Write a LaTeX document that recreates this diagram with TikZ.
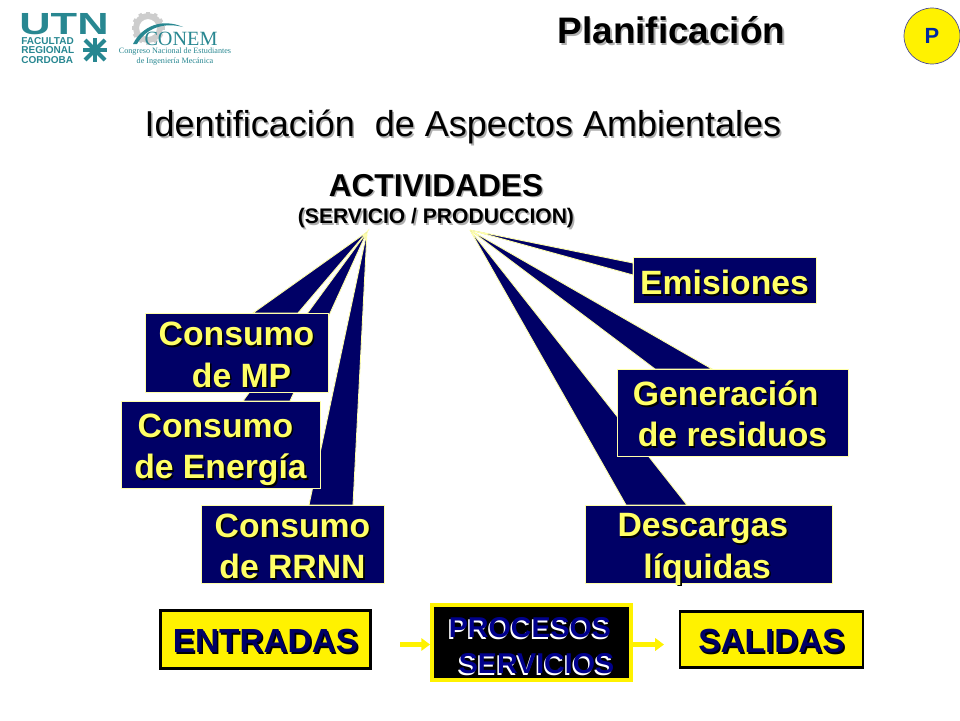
\documentclass[tikz,border=0pt]{standalone}
\usepackage{fontspec}
\setmainfont{Liberation Sans}
\newfontfamily\conemfont{Liberation Serif}
\usetikzlibrary{positioning,arrows.meta}
\definecolor{navyfill}{RGB}{0,0,102}
\definecolor{procnavy}{RGB}{0,0,140}
\definecolor{paleline}{RGB}{255,255,170}
\definecolor{palefont}{RGB}{255,255,102}
\definecolor{utnteal}{RGB}{40,135,145}
\definecolor{lightgrey}{RGB}{205,205,205}
\definecolor{softgrey}{RGB}{175,175,175}
\definecolor{badgeblue}{RGB}{0,40,160}
% text with a shadow behind it
\newcommand{\shtxt}[3][black]{\makebox[0pt][l]{\kern0.9pt\raisebox{-0.9pt}{\textcolor{#1}{#3}}}\textcolor{#2}{#3}}
% navy letters with a white edge to the lower left
\newcommand{\edgetxt}[1]{\makebox[0pt][l]{\kern-0.8pt\raisebox{-0.8pt}{\textcolor{white}{#1}}}\textcolor{procnavy}{#1}}
% taller first line, pushes the text of a box down
\newcommand{\lowtop}[1]{\rule{0pt}{#1pt}}
\tikzset{
    wedgeshape/.style={draw=paleline,fill=navyfill,line width=0.5pt},
    navybox/.style={fill=navyfill,draw=paleline,line width=0.3pt,font=\bfseries\fontsize{19.2}{23.5}\selectfont,align=center,inner sep=0pt},
    yellowbox/.style={fill=yellow,draw=black,line width=1.6pt,font=\bfseries\fontsize{19}{22}\selectfont,inner sep=0pt},
    flowarrow/.style={draw=yellow,line width=2.9pt,-{Triangle[length=5pt,width=7pt]}},
    utnstroke/.style={utnteal,line width=2.4pt},
}
\begin{document}
\begin{tikzpicture}[x=0.02cm,y=-0.02cm]
    \useasboundingbox (0,0) rectangle (960,720);

    % Logos
    \node (utnname) at (64,24) [text=utnteal,font=\bfseries\fontsize{17.4}{18}\selectfont,inner sep=0pt] {\scalebox{1.42}[1]{UTN}};
    \node (utnplace) at (21,50.5) [anchor=west,text=utnteal,font=\bfseries\fontsize{5.7}{5.4}\selectfont,align=left,inner sep=0pt] {FACULTAD\\REGIONAL\\CORDOBA};
    \draw [utnstroke] (83,50) to (107,50);
    \draw [utnstroke] (95,38) to (95,62);
    \draw [utnstroke] (85,40) to (105,60);
    \draw [utnstroke] (105,40) to (85,60);
    % gear behind the CONEM name
    \draw [lightgrey,line width=3.4pt] (148,28) circle [radius=12];
    \foreach \ang in {0,30,...,330}
        \draw [lightgrey,line width=2pt] (148,28) ++(\ang:12) -- ++(\ang:4.5);
    \fill [utnteal] (133,44) .. controls (142,26) and (162,18) .. (183,27) .. controls (164,22) and (146,28) .. (137,44) -- cycle;
    \node (conemname) at (181,38.5) [text=utnteal,font=\conemfont\fontsize{11.5}{12}\selectfont,inner sep=0pt] {CONEM};
    \node (conemtext) at (175,56.5) [text=utnteal,font=\conemfont\fontsize{4.65}{4}\selectfont,align=center,inner sep=0pt] {Congreso Nacional de Estudiantes\\de Ingeniería Mecánica};

    % Titles
    \node (plan) at (671.5,31) [font=\bfseries\fontsize{21}{23}\selectfont,inner sep=0pt] {\shtxt[softgrey]{black}{Planificación}};
    \node (pbadge) at (932,36) [circle,fill=yellow,draw=navyfill!70,line width=0.4pt,minimum size=1.12cm,font=\bfseries\fontsize{12.5}{14}\selectfont,text=badgeblue,inner sep=0pt] {P};
    \node (ident) at (463,128) [font=\fontsize{20.5}{23}\selectfont,inner sep=0pt] {\shtxt[softgrey]{black}{Identificación\ \ de Aspectos Ambientales}};
    \node (activ) at (436,186) [font=\bfseries\fontsize{18}{20}\selectfont,inner sep=0pt] {\shtxt[softgrey]{black}{ACTIVIDADES}};
    \node (serv) at (436,219) [font=\bfseries\fontsize{12}{14}\selectfont,inner sep=0pt] {\shtxt[softgrey]{black}{(SERVICIO / PRODUCCION)}};
    \coordinate (inapex) at (367,232);
    \coordinate (outapex) at (470,230);

    % Wedges
    \draw [wedgeshape] (inapex) -- (253,313) -- (298,313) -- cycle;
    \draw [wedgeshape] (inapex) -- (243,401) -- (290,401) -- cycle;
    \draw [wedgeshape] (inapex) -- (309,505) -- (353,505) -- cycle;
    \draw [wedgeshape] (outapex) -- (633,263) -- (633,275) -- cycle;
    \draw [wedgeshape] (outapex) -- (626,505) -- (687,505) -- cycle;
    \draw [wedgeshape] (outapex) -- (655,369) -- (712,369) -- cycle;

    % Boxes
    \node (mp) at (236.5,352.5) [navybox,minimum width=3.66cm,minimum height=1.58cm] {\lowtop{17}\shtxt{palefont}{Consumo}\\\hspace{0.3em}\shtxt{palefont}{de MP}};
    \node (energia) at (220.5,444.5) [navybox,minimum width=3.98cm,minimum height=1.74cm] {\lowtop{20.4}\shtxt{palefont}{Consumo}\hspace*{0.3em}\\\shtxt{palefont}{de Energía}};
    \node (rrnn) at (292.5,544) [navybox,minimum width=3.66cm,minimum height=1.56cm] {\lowtop{17}\shtxt{palefont}{Consumo}\\\shtxt{palefont}{de RRNN}};
    \node (emis) at (724.5,280) [navybox,minimum width=3.66cm,minimum height=0.92cm] {\lowtop{17.6}\shtxt{palefont}{Emisiones}};
    \node (resid) at (732.5,412.5) [navybox,minimum width=4.62cm,minimum height=1.74cm] {\lowtop{16.6}\shtxt{palefont}{Generación}\hspace*{0.4em}\\\shtxt{palefont}{de residuos}};
    \node (desc) at (708.5,544) [navybox,minimum width=4.94cm,minimum height=1.56cm] {\lowtop{15.5}\shtxt{palefont}{Descargas}\hspace*{0.33em}\\\smash{\shtxt{palefont}{líquidas}}\hspace*{0.08em}};

    % Bottom row
    \node (entr) at (265.5,639.5) [yellowbox,minimum width=4.2cm,minimum height=1.16cm] {\lowtop{16}\shtxt{navyfill}{ENTRADAS}};
    \node (proc) at (531.5,642.5) [fill=black,draw=yellow,line width=2.2pt,minimum width=3.98cm,minimum height=1.5cm,align=left,font=\bfseries\fontsize{16.3}{20.5}\selectfont,inner sep=0pt] {\lowtop{16.3}\edgetxt{PROCESOS}\\\hspace{0.35em}\edgetxt{SERVICIOS}};
    \node (sal) at (771.5,639.5) [yellowbox,minimum width=3.66cm,minimum height=1.12cm] {\lowtop{16}\shtxt{navyfill}{SALIDAS}};

    % Arrows
    \coordinate (arrowa) at (400,644.5);
    \coordinate (arrowb) at (664,644.5);
    \draw [flowarrow] (arrowa) -- (proc.west |- arrowa);
    \draw [flowarrow] (proc.east |- arrowb) -- (arrowb);
\end{tikzpicture}
\end{document}
